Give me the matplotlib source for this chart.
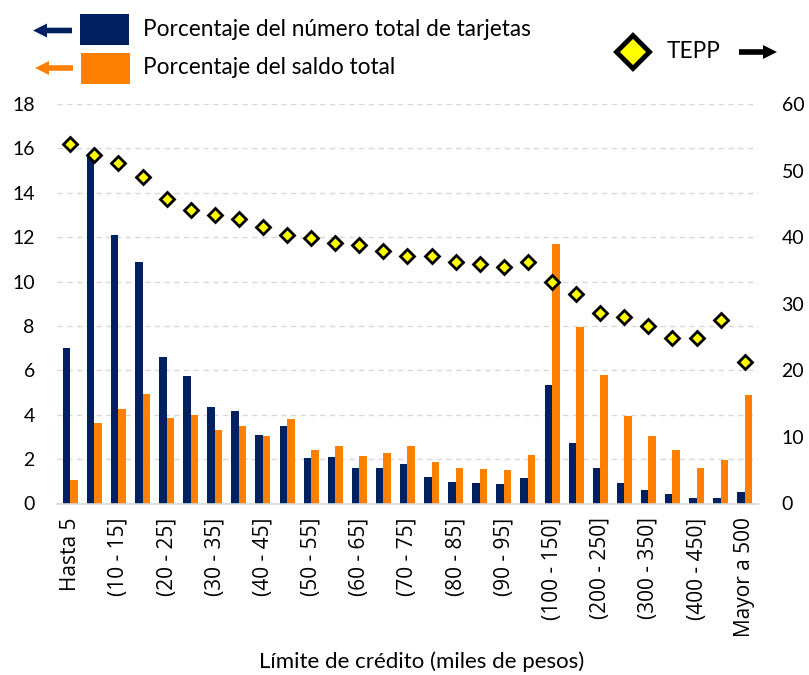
import matplotlib
matplotlib.use("Agg")
import matplotlib.pyplot as plt
import numpy as np
from matplotlib.patches import Rectangle, Polygon

categories = ["Hasta 5", "(5 - 10]", "(10 - 15]", "(15 - 20]", "(20 - 25]", "(25 - 30]",
              "(30 - 35]", "(35 - 40]", "(40 - 45]", "(45 - 50]", "(50 - 55]", "(55 - 60]",
              "(60 - 65]", "(65 - 70]", "(70 - 75]", "(75 - 80]", "(80 - 85]", "(85 - 90]",
              "(90 - 95]", "(95 - 100]", "(100 - 150]", "(150 - 200]", "(200 - 250]",
              "(250 - 300]", "(300 - 350]", "(350 - 400]", "(400 - 450]", "(450 - 500]",
              "Mayor a 500"]

pct_tarjetas = [7.02, 15.65, 12.12, 10.89, 6.58, 5.75, 4.37, 4.19, 3.07, 3.49, 2.07, 2.09,
                1.62, 1.62, 1.76, 1.19, 0.99, 0.92, 0.86, 1.16, 5.32, 2.72, 1.61, 0.93,
                0.62, 0.41, 0.27, 0.27, 0.54]
pct_saldo = [1.05, 3.61, 4.25, 4.94, 3.83, 3.97, 3.32, 3.47, 3.02, 3.79, 2.39, 2.57,
             2.13, 2.28, 2.58, 1.86, 1.59, 1.55, 1.53, 2.18, 11.69, 7.93, 5.80, 3.94,
             3.05, 2.39, 1.58, 1.97, 4.91]
tepp = [54.0, 52.4, 51.1, 49.1, 45.8, 44.1, 43.3, 42.7, 41.5, 40.3, 39.8, 39.1,
        38.8, 37.9, 37.1, 37.1, 36.3, 36.0, 35.5, 36.3, 33.2, 31.4, 28.6, 28.0,
        26.6, 24.8, 24.8, 27.6, 21.2]

label_tarjetas = "Porcentaje del número total de tarjetas"
label_saldo = "Porcentaje del saldo total"
label_tepp = "TEPP"
xlabel = "Límite de crédito (miles de pesos)"

NAVY = "#002060"
ORANGE = "#FF7F00"
W, H = 809, 675
FONT = "Lato"

fig = plt.figure(figsize=(W / 100, H / 100), dpi=100)
ax = fig.add_axes([57 / W, 1 - 503.5 / H, (758 - 57) / W, (503.5 - 104) / H])
ax2 = ax.twinx()

x = np.arange(len(categories))
bw = 0.31
ax.bar(x - bw / 2, pct_tarjetas, width=bw, color=NAVY, zorder=2)
ax.bar(x + bw / 2, pct_saldo, width=bw, color=ORANGE, zorder=2)
ax2.plot(x, tepp, linestyle="none", marker="D", markersize=7.5, markerfacecolor="#FFFF00",
         markeredgecolor="black", markeredgewidth=2, zorder=3)

ax.set_xlim(-0.55, len(categories) - 0.45)
ax.set_ylim(0, 18)
ax2.set_ylim(0, 60)
ax.set_yticks(np.arange(0, 19, 2))
ax2.set_yticks(np.arange(0, 61, 10))
ax.yaxis.grid(True, linestyle=(0, (4, 3)), color="#D9D9D9", linewidth=1)
ax.set_axisbelow(True)

for a in (ax, ax2):
    for s in a.spines.values():
        s.set_visible(False)
ax.spines["bottom"].set_visible(True)
ax.spines["bottom"].set_color("#D9D9D9")
ax.spines["bottom"].set_linewidth(1.2)

ax.tick_params(axis="y", length=0, pad=16, labelsize=14)
ax2.tick_params(axis="y", length=0, pad=17, labelsize=14)
for lab in ax.get_yticklabels() + ax2.get_yticklabels():
    lab.set_fontfamily(FONT)
    lab.set_color("#000000")

ax.set_xticks(x[::2])
ax.set_xticklabels(categories[::2], rotation=90, fontsize=15, family="Open Sans")
ax.tick_params(axis="x", length=0, pad=10)

fig.text(422 / W, 1 - 662 / H, xlabel, ha="center", va="center", fontsize=16, family=FONT)


# Custom legend (figure pixels, y measured from top)
def fy(y):
    return (H - y) / H


def fx(v):
    return v / W


def arrow(x_tail, x_tip, y, color, head=14, hh=7, sh=2.8):
    d = 1 if x_tip > x_tail else -1
    xb = x_tip - d * head
    pts = [(x_tail, y - sh), (xb, y - sh), (xb, y - hh), (x_tip, y),
           (xb, y + hh), (xb, y + sh), (x_tail, y + sh)]
    fig.patches.append(Polygon([(fx(a), fy(b)) for a, b in pts], closed=True,
                               transform=fig.transFigure, facecolor=color, edgecolor="none"))


arrow(72, 33, 30.5, NAVY)
arrow(73, 35, 68, ORANGE)
fig.patches.append(Rectangle((fx(80), fy(45)), 49 / W, 31 / H, transform=fig.transFigure,
                             facecolor=NAVY, edgecolor="none"))
fig.patches.append(Rectangle((fx(81), fy(83.5)), 49 / W, 30.5 / H, transform=fig.transFigure,
                             facecolor=ORANGE, edgecolor="none"))
fig.text(fx(143), fy(29), label_tarjetas, ha="left", va="center", fontsize=16.3, family=FONT)
fig.text(fx(143), fy(68), label_saldo, ha="left", va="center", fontsize=16.3, family=FONT)

cx, cy, r = 633, 52, 16.5
fig.patches.append(Polygon([(fx(cx), fy(cy - r)), (fx(cx + r), fy(cy)),
                            (fx(cx), fy(cy + r)), (fx(cx - r), fy(cy))],
                           closed=True, transform=fig.transFigure, facecolor="#FFFF00",
                           edgecolor="black", linewidth=3.5, joinstyle="miter"))
fig.text(fx(667), fy(52), label_tepp, ha="left", va="center", fontsize=16.3, family=FONT)
arrow(739, 777, 52, "black")

fig.savefig("out.png", dpi=100)
